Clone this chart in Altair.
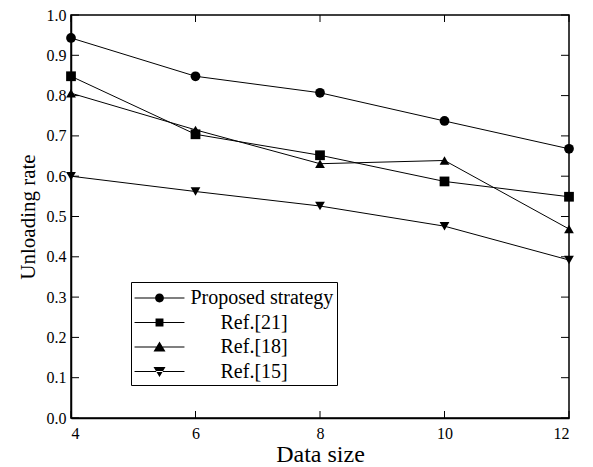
import altair as alt
import pandas as pd

data_size = [4, 6, 8, 10, 12]
series_names = ["Proposed strategy", "Ref.[21]", "Ref.[18]", "Ref.[15]"]
proposed = [0.943, 0.848, 0.807, 0.737, 0.668]
ref21 = [0.848, 0.704, 0.652, 0.587, 0.549]
ref18 = [0.806, 0.715, 0.631, 0.639, 0.469]
ref15 = [0.600, 0.562, 0.526, 0.476, 0.392]
marker_shapes = ["circle", "square", "triangle-up", "triangle-down"]

y_ticks = [round(i * 0.1, 1) for i in range(11)]
x_ticks = [4, 6, 8, 10, 12]

rows = []
for name, vals in zip(series_names, [proposed, ref21, ref18, ref15]):
    for xv, yv in zip(data_size, vals):
        rows.append({"size": xv, "rate": yv, "series": name})
df = pd.DataFrame(rows)
yt = pd.DataFrame({"v": y_ticks})
xt = pd.DataFrame({"v": x_ticks})

W, H = 498, 403
FONT = "Liberation Serif"

xscale = alt.Scale(domain=[4, 12], nice=False, zero=False)
yscale = alt.Scale(domain=[0, 1], nice=False)

x_enc = alt.X("size:Q", scale=xscale,
              axis=alt.Axis(values=x_ticks, format="d", title="Data size", tickSize=0,
                            labelPadding=7, titlePadding=1, grid=False,
                            labelFont=FONT, titleFont=FONT, titleFontWeight="normal",
                            labelColor="black", titleColor="black",
                            domainColor="black", domainWidth=1.5,
                            labelFontSize=16, titleFontSize=24))
y_enc = alt.Y("rate:Q", scale=yscale,
              axis=alt.Axis(values=y_ticks, format=".1f", title="Unloading rate",
                            tickSize=0, labelPadding=5, titlePadding=8, grid=False,
                            labelFont=FONT, titleFont=FONT, titleFontWeight="normal",
                            labelColor="black", titleColor="black",
                            domainColor="black", domainWidth=1.5,
                            labelFontSize=16, titleFontSize=21))

order = alt.Order("size:Q")
lines = alt.Chart(df).mark_line(color="black", strokeWidth=1).encode(
    x=x_enc, y=y_enc, detail="series:N", order=order)

point_layers = []
for name, shp in zip(series_names, marker_shapes):
    point_layers.append(
        alt.Chart(df).transform_filter(alt.datum.series == name)
        .mark_point(filled=True, color="black", opacity=1, size=95, shape=shp)
        .encode(x="size:Q", y="rate:Q"))

# legend symbols: a thin filled bar (the line) with the marker in its middle (unit = 12 px)
BAR = "M-2.08,-0.045L2.08,-0.045L2.08,0.045L-2.08,0.045Z"
leg_paths = [
    BAR + "M0.37,0A0.37,0.37,0,1,1,-0.37,0A0.37,0.37,0,1,1,0.37,0Z",
    BAR + "M-0.33,-0.33L0.33,-0.33L0.33,0.33L-0.33,0.33Z",
    BAR + "M0,-0.45L0.5,0.38L-0.5,0.38Z",
    BAR + "M0,0.45L0.5,-0.38L-0.5,-0.38Z",
]
indent = "\u200b\u2003\u2002"
legend_layer = alt.Chart(df).mark_point(
    filled=True, fill="black", opacity=0
).encode(
    x="size:Q", y="rate:Q",
    shape=alt.Shape("series:N", sort=series_names,
                    scale=alt.Scale(domain=series_names, range=leg_paths),
                    legend=alt.Legend(title=None, orient="none", legendX=60, legendY=267,
                                      symbolSize=576, symbolOpacity=1, symbolOffset=12.5,
                                      symbolFillColor="black",
                                      rowPadding=1.5,
                                      labelOffset=18, labelFontSize=20, labelFont=FONT,
                                      labelColor="black", labelLimit=400,
                                      labelExpr=f"indexof(datum.label, 'Ref') == 0 ? '{indent}' + datum.label : datum.label",
                                      strokeColor="black", padding=3, fillColor="white")))

left_ticks = alt.Chart(yt).mark_rule(color="black", strokeWidth=1).encode(
    y=alt.Y("v:Q", scale=yscale), x=alt.value(0), x2=alt.value(8))
right_ticks = alt.Chart(yt).mark_rule(color="black", strokeWidth=1).encode(
    y=alt.Y("v:Q", scale=yscale), x=alt.value(W - 8), x2=alt.value(W))
top_ticks = alt.Chart(xt).mark_rule(color="black", strokeWidth=1).encode(
    x=alt.X("v:Q", scale=xscale), y=alt.value(0), y2=alt.value(7))
bottom_ticks = alt.Chart(xt).mark_rule(color="black", strokeWidth=1).encode(
    x=alt.X("v:Q", scale=xscale), y=alt.value(H - 7), y2=alt.value(H))

chart = alt.layer(lines, left_ticks, right_ticks, top_ticks, bottom_ticks, *point_layers, legend_layer).properties(
    width=W, height=H,
    background="white",
    autosize=alt.AutoSizeParams(type="none"),
    padding={"left": 63, "top": 7, "right": 16, "bottom": 49},
).configure_view(stroke="black", strokeWidth=1.5)

chart.save("out.html", embed_options={"renderer": "svg", "actions": False})
